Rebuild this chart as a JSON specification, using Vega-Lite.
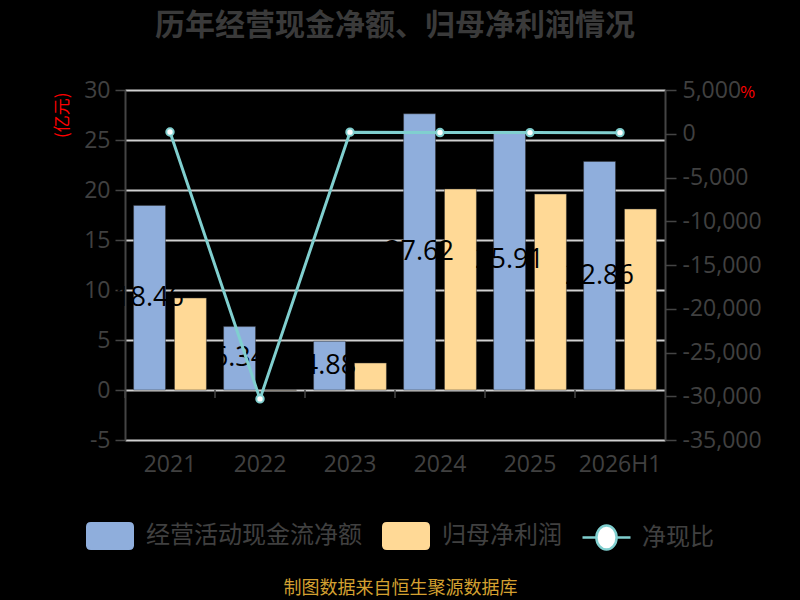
{
  "$schema": "https://vega.github.io/schema/vega-lite/v6.json",
  "width": 540,
  "height": 350,
  "autosize": {"type": "none"},
  "padding": {"left": 125, "top": 90, "right": 135, "bottom": 160},
  "background": "#000000",
  "config": {
    "view": {"stroke": null},
    "font": "Noto Sans CJK SC"
  },
  "title": {
    "text": "历年经营现金净额、归母净利润情况",
    "fontSize": 30,
    "fontWeight": "bold",
    "color": "#3a3a3a",
    "anchor": "middle",
    "offset": 38,
    "font": "Noto Sans CJK SC"
  },
  "data": {
    "values": [
      {"year": "2021", "经营活动现金流净额": 18.46, "归母净利润": 9.2, "净现比": 200},
      {"year": "2022", "经营活动现金流净额": 6.34, "归母净利润": -0.02, "净现比": -30300},
      {"year": "2023", "经营活动现金流净额": 4.88, "归母净利润": 2.7, "净现比": 181},
      {"year": "2024", "经营活动现金流净额": 27.62, "归母净利润": 20.1, "净现比": 137},
      {"year": "2025", "经营活动现金流净额": 25.91, "归母净利润": 19.6, "净现比": 132},
      {"year": "2026H1", "经营活动现金流净额": 22.86, "归母净利润": 18.1, "净现比": 126}
    ]
  },
  "encoding": {
    "x": {
      "field": "year",
      "type": "nominal",
      "sort": null,
      "scale": {"paddingInner": 0, "paddingOuter": 0},
      "axis": {
        "title": "制图数据来自恒生聚源数据库",
        "titleColor": "#D4A030",
        "titleFont": "Noto Sans CJK SC",
        "titleFontSize": 18,
        "titleFontWeight": "normal",
        "titleX": 275,
        "titleY": 148,
        "titleAlign": "center",
        "titleBaseline": "middle",
        "labelAngle": 0,
        "labelColor": "#404040",
        "labelFont": "Open Sans",
        "labelFontSize": 23,
        "labelPadding": 13,
        "domain": false,
        "ticks": false,
        "grid": false
      }
    }
  },
  "layer": [
    {
      "layer": [
        {
          "transform": [{"fold": ["经营活动现金流净额", "归母净利润"], "as": ["series", "value"]}],
          "mark": {"type": "bar", "stroke": "#333333", "strokeWidth": 0.8, "strokeOpacity": 0.6},
          "encoding": {
            "xOffset": {
              "field": "series",
              "type": "nominal",
              "scale": {"domain": ["经营活动现金流净额", "归母净利润"], "paddingInner": 0.22, "paddingOuter": 0.21}
            },
            "y": {
              "field": "value",
              "type": "quantitative",
              "scale": {"domain": [-5, 30], "nice": false, "zero": false},
              "axis": {
                "orient": "left",
                "values": [-5, 0, 5, 10, 15, 20, 25, 30],
                "labelExpr": "replace(format(datum.value, ''), '\u2212', '-')",
                "grid": true,
                "gridColor": "#d0d0d0",
                "gridWidth": 2,
                "domainColor": "#444444",
                "domainWidth": 2,
                "tickColor": "#444444",
                "tickSize": 10,
                "tickWidth": 1.5,
                "labelColor": "#404040",
                "labelFont": "Open Sans",
                "labelFontSize": 23,
                "labelPadding": 5,
                "title": "(亿元)",
                "titleColor": "#ff0000",
                "titleFont": "Noto Sans CJK SC",
                "titleFontSize": 17,
                "titleFontWeight": "normal",
                "titleAngle": -90,
                "titleAlign": "right",
                "titleBaseline": "middle",
                "titleX": -63,
                "titleY": 2
              }
            },
            "color": {
              "field": "series",
              "type": "nominal",
              "scale": {"domain": ["经营活动现金流净额", "归母净利润"], "range": ["#8FAEDC", "#FFD996"]},
              "legend": {
                "orient": "none",
                "legendX": -39,
                "legendY": 422,
                "direction": "horizontal",
                "title": null,
                "padding": 0,
                "symbolType": "M-0.8,-0.583 L0.8,-0.583 Q1,-0.583 1,-0.383 L1,0.383 Q1,0.583 0.8,0.583 L-0.8,0.583 Q-1,0.583 -1,0.383 L-1,-0.383 Q-1,-0.583 -0.8,-0.583 Z",
                "symbolSize": 2304,
                "symbolStrokeWidth": 0,
                "symbolOpacity": 1,
                "labelFont": "Noto Sans CJK SC",
                "labelFontSize": 24,
                "labelColor": "#404040",
                "labelOffset": 12,
                "columnPadding": 20,
                "labelLimit": 400
              }
            }
          }
        },
        {
          "transform": [
            {"fold": ["经营活动现金流净额"], "as": ["series", "value"]},
            {"calculate": "datum.value / 2", "as": "mid"}
          ],
          "mark": {"type": "text", "color": "#000000", "font": "Open Sans", "fontSize": 27, "baseline": "middle", "align": "center"},
          "encoding": {
            "xOffset": {"field": "series", "type": "nominal"},
            "y": {"field": "mid", "type": "quantitative"},
            "text": {"field": "value", "type": "quantitative", "format": ".2f"}
          }
        },
        {
          "mark": {"type": "rule", "color": "#444444", "strokeWidth": 1.5},
          "encoding": {
            "x": {"field": "year", "type": "nominal", "bandPosition": 0},
            "y": {"datum": 0, "type": "quantitative"},
            "y2": {"datum": -0.8}
          }
        },
        {
          "mark": {"type": "rule", "color": "#444444", "strokeWidth": 2},
          "encoding": {
            "y": {"datum": 0, "type": "quantitative"}
          }
        }
      ]
    },
    {
      "mark": {
        "type": "line",
        "strokeWidth": 3,
        "point": {"filled": true, "fill": "#ffffff", "stroke": "#80CFCF", "strokeWidth": 2, "size": 55}
      },
      "encoding": {
        "y": {
          "field": "净现比",
          "type": "quantitative",
          "scale": {"domain": [-35000, 5000], "nice": false, "zero": false},
          "axis": {
            "orient": "right",
            "values": [-35000, -30000, -25000, -20000, -15000, -10000, -5000, 0, 5000],
            "labelExpr": "replace(format(datum.value, ','), '\u2212', '-')",
            "grid": false,
            "domainColor": "#444444",
            "domainWidth": 2,
            "tickColor": "#444444",
            "tickSize": 11,
            "tickWidth": 1.5,
            "labelColor": "#404040",
            "labelFont": "Open Sans",
            "labelFontSize": 23,
            "labelPadding": 6,
            "title": "%",
            "titleColor": "#ff0000",
            "titleFontSize": 16,
            "titleFontWeight": "normal",
            "titleAngle": 0,
            "titleAlign": "center",
            "titleBaseline": "middle",
            "titleX": 82,
            "titleY": 2
          }
        },
        "stroke": {
          "datum": "净现比",
          "scale": {"domain": ["净现比"], "range": ["#80CFCF"]},
          "legend": {
            "orient": "none",
            "legendX": 456,
            "legendY": 422,
            "title": null,
            "padding": 0,
            "symbolType": "M-1,0 L-0.42,0 M0.42,0 L1,0 M-0.42,0 A0.42,0.5 0 1,1 0.42,0 A0.42,0.5 0 1,1 -0.42,0 Z",
            "symbolSize": 2304,
            "symbolStrokeWidth": 2.5,
            "symbolFillColor": "#ffffff",
            "labelFont": "Noto Sans CJK SC",
            "labelFontSize": 24,
            "labelColor": "#404040",
            "labelOffset": 10
          }
        }
      }
    }
  ],
  "resolve": {"scale": {"y": "independent"}}
}
